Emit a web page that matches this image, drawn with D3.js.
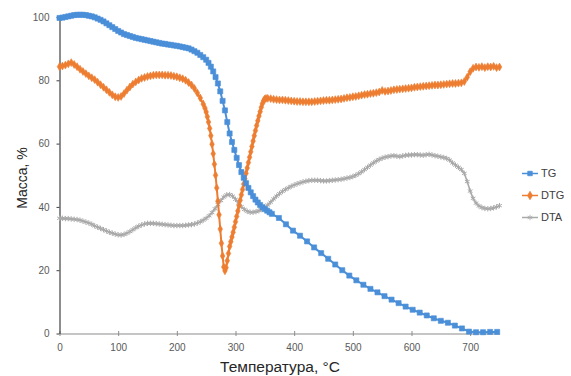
<!DOCTYPE html>
<html>
<head>
<meta charset="utf-8">
<script src="https://cdn.jsdelivr.net/npm/d3@7"></script>
<style>
  body { margin: 0; background: #fff; }
  text { font-family: "Liberation Sans", Arial, sans-serif; }
</style>
</head>
<body>
<div id="div1"></div>
<script>

// temperature (°C) / value pairs
var tgData = [[0,99.7],[5,99.8],[10,100.0],[15,100.2],[20,100.4],[25,100.6],[30,100.7],[35,100.7],[40,100.7],[45,100.6],
  [50,100.4],[55,100.2],[60,99.9],[65,99.5],[70,99.1],[75,98.6],[80,98.0],[85,97.4],[90,96.8],[95,96.2],
  [100,95.6],[105,95.1],[110,94.6],[115,94.3],[120,94.0],[125,93.7],[130,93.4],[135,93.2],[140,93.0],[145,92.8],
  [150,92.6],[155,92.4],[160,92.2],[165,92.0],[170,91.8],[175,91.6],[180,91.5],[185,91.3],[190,91.2],[195,91.0],
  [200,90.9],[205,90.7],[210,90.5],[215,90.3],[220,90.1],[225,89.7],[230,89.2],[235,88.7],[240,88.0],[245,87.3],
  [250,86.5],[254,85.5],[258,84.3],[262,82.8],[266,81.0],[270,79.0],[274,76.5],[278,73.5],[282,70.5],[286,66.8],
  [290,63.2],[294,60.5],[298,58.0],[302,55.5],[306,53.2],[310,51.0],[314,49.2],[318,47.5],[322,46.0],[326,44.6],
  [330,43.4],[334,42.3],[338,41.4],[342,40.6],[346,39.9],[350,39.3],[354,38.8],[358,38.3],[362,37.8],
  [374,36.5],[386,34.5],[398,32.5],[410,30.9],[422,29.1],[434,27.2],[446,25.4],[458,23.6],[470,21.8],[482,20.0],
  [494,18.3],[506,16.8],[518,15.4],[530,14.1],[542,13.0],[554,11.8],[566,10.7],[578,9.6],[590,8.5],[602,7.5],
  [614,6.6],[626,5.7],[638,4.8],[650,4.0],[662,3.4],[674,2.5],[686,1.6],[698,0.6],[710,0.4],[722,0.4],[734,0.5],[746,0.5]];

var dtgData = [[0,84.3],[5,84.5],[10,84.8],[15,85.2],[20,85.6],[25,85.0],[30,84.3],[35,83.5],[40,82.8],[45,82.1],
  [50,81.4],[55,80.8],[60,80.2],[65,79.4],[70,78.6],[75,77.8],[80,77.0],[85,76.2],[90,75.4],[95,74.8],
  [100,74.6],[105,74.9],[110,75.8],[115,76.9],[120,77.9],[125,78.8],[130,79.5],[135,80.1],[140,80.6],[145,80.9],
  [150,81.2],[155,81.4],[160,81.6],[165,81.7],[170,81.7],[175,81.7],[180,81.6],[185,81.6],[190,81.5],[195,81.3],
  [200,81.1],[205,80.8],[210,80.5],[215,80.0],[220,79.3],[225,78.5],[230,77.4],[235,76.0],[240,74.4],[245,72.5],
  [248,71.2],[250,70.0],[252,68.5],[254,66.8],[256,64.8],[258,62.5],[260,59.8],[262,56.8],[264,53.5],[266,50.0],
  [268,46.0],[270,41.8],[272,37.5],[274,33.0],[276,28.5],[278,24.5],[280,21.0],[282,19.8],[284,20.8],[286,23.0],
  [288,25.3],[290,27.5],[292,29.0],[294,30.5],[296,32.0],[298,33.6],[300,35.3],[302,37.0],[304,38.7],[306,40.4],
  [308,42.1],[310,43.8],[312,45.5],[314,47.2],[316,48.9],[318,50.6],[320,52.3],[322,54.0],[324,55.7],[326,57.4],
  [328,59.1],[330,60.8],[332,62.5],[334,64.1],[336,65.7],[338,67.2],[340,68.7],[342,70.1],[344,71.5],[346,72.7],
  [348,73.6],[350,74.1],[352,74.3],[355,74.3],[360,74.2],[365,74.0],[370,73.9],[375,73.8],[380,73.8],[385,73.7],
  [390,73.6],[395,73.5],[400,73.4],[405,73.3],[410,73.3],[415,73.2],[420,73.2],[425,73.2],[430,73.2],[435,73.3],
  [440,73.4],[445,73.5],[450,73.6],[455,73.7],[460,73.7],[465,73.8],[470,73.9],[475,74.0],[480,74.1],[485,74.3],
  [490,74.5],[495,74.6],[500,74.8],[505,74.9],[510,75.1],[515,75.3],[520,75.5],[525,75.6],[530,75.8],[535,75.9],
  [540,76.1],[545,76.3],[550,76.8],[555,76.5],[560,76.6],[565,76.8],[570,77.0],[575,77.1],[580,77.2],[585,77.3],
  [590,77.4],[595,77.5],[600,77.6],[605,77.8],[610,77.9],[615,78.0],[620,78.1],[625,78.2],[630,78.3],[635,78.4],
  [640,78.5],[645,78.5],[650,78.6],[655,78.7],[660,78.8],[665,78.9],[670,79.0],[675,79.0],[680,79.1],[685,79.2],
  [690,79.6],[695,81.0],[700,82.7],[705,83.8],[710,84.2],[715,84.1],[720,84.3],[725,84.0],[730,84.3],[735,84.2],
  [740,84.4],[745,84.0],[750,84.2]];

var dtaData = [[0,36.4],[5,36.4],[10,36.3],[15,36.3],[20,36.2],[25,36.1],[30,36.0],[35,35.8],[40,35.5],[45,35.2],
  [50,34.9],[55,34.5],[60,34.0],[65,33.6],[70,33.2],[75,32.8],[80,32.4],[85,32.0],[90,31.7],[95,31.4],
  [100,31.2],[105,31.1],[110,31.3],[115,31.7],[120,32.2],[125,32.8],[130,33.4],[135,33.9],[140,34.3],[145,34.6],
  [150,34.8],[155,34.8],[160,34.8],[165,34.7],[170,34.6],[175,34.5],[180,34.4],[185,34.3],[190,34.2],[195,34.1],
  [200,34.1],[205,34.1],[210,34.1],[215,34.2],[220,34.3],[225,34.4],[230,34.6],[235,34.9],[240,35.3],[245,35.8],
  [250,36.4],[255,37.2],[260,38.2],[265,39.4],[270,40.7],[275,42.0],[280,43.1],[285,43.8],[290,43.9],[295,43.4],
  [300,42.4],[305,41.2],[310,40.1],[315,39.2],[320,38.6],[325,38.3],[330,38.3],[335,38.5],[340,38.8],[345,39.2],
  [350,39.8],[355,40.6],[360,41.5],[365,42.5],[370,43.4],[375,44.2],[380,44.9],[385,45.5],[390,46.0],[395,46.5],
  [400,46.9],[405,47.3],[410,47.6],[415,47.9],[420,48.1],[425,48.3],[430,48.4],[435,48.4],[440,48.4],[445,48.3],
  [450,48.2],[455,48.2],[460,48.3],[465,48.4],[470,48.5],[475,48.6],[480,48.7],[485,48.9],[490,49.1],[495,49.3],
  [500,49.6],[505,50.0],[510,50.5],[515,51.1],[520,51.8],[525,52.5],[530,53.2],[535,53.9],[540,54.5],[545,55.0],
  [550,55.4],[555,55.7],[560,55.9],[565,56.1],[570,56.2],[575,56.0],[580,55.9],[585,56.1],[590,56.3],[595,56.4],
  [600,56.4],[605,56.5],[610,56.5],[615,56.4],[620,56.3],[625,56.5],[630,56.6],[635,56.4],[640,56.2],[645,56.0],
  [650,55.8],[655,55.6],[660,55.3],[665,54.8],[670,53.9],[675,53.2],[680,52.5],[685,51.8],[690,50.6],[695,48.0],
  [700,45.0],[705,42.7],[710,41.2],[715,40.3],[720,39.8],[725,39.5],[730,39.4],[735,39.5],[740,39.7],[745,40.0],
  [750,40.4]];

var xTicks = [0, 100, 200, 300, 400, 500, 600, 700];
var yTicks = [0, 20, 40, 60, 80, 100];
var seriesNames = ['TG', 'DTG', 'DTA'];

var width = 571, height = 376;

var x = d3.scaleLinear().domain([0, 750]).range([59.5, 499.5]);
var y = d3.scaleLinear().domain([0, 100]).range([333.5, 17]);

var svg = d3.select('#div1').append('svg')
    .attr('width', width)
    .attr('height', height);

// axes
var xAxis = svg.append('g')
    .attr('transform', 'translate(0,' + y(0) + ')')
    .call(d3.axisBottom(x).tickValues(xTicks).tickSize(0).tickPadding(10));
xAxis.select('.domain').attr('stroke', '#8c8c8c').attr('stroke-width', 1.2);
xAxis.selectAll('.tick line').remove();
xAxis.selectAll('.tick').append('line')
    .attr('y1', -2.5).attr('y2', 2.5)
    .attr('stroke', '#8c8c8c');
xAxis.selectAll('text').attr('fill', '#595959').style('font-size', '10px');

var yAxis = svg.append('g')
    .attr('transform', 'translate(' + x(0) + ',0)')
    .call(d3.axisLeft(y).tickValues(yTicks).tickSize(3).tickSizeOuter(0).tickPadding(7));
yAxis.select('.domain').attr('stroke', '#404040').attr('stroke-width', 1.2);
yAxis.selectAll('.tick line').attr('stroke', '#404040');
yAxis.selectAll('text').attr('fill', '#595959').style('font-size', '10px');

var colors = { TG: '#4a8fd8', DTG: '#ed7d31', DTA: '#a9a9a9' };

var line = d3.line()
    .x(function(d) { return x(d[0]); })
    .y(function(d) { return y(d[1]); });

function drawSeries(data, name) {
  var g = svg.append('g');
  g.append('path')
      .datum(data)
      .attr('fill', 'none')
      .attr('stroke', colors[name])
      .attr('stroke-width', name === 'DTA' ? 1.6 : 2)
      .attr('d', line);
  var sym = name === 'TG' ? d3.symbolSquare : (name === 'DTG' ? d3.symbolDiamond : d3.symbolAsterisk);
  var size = name === 'TG' ? 26 : (name === 'DTG' ? 18 : 20);
  g.selectAll('path.mk')
      .data(data)
    .enter().append('path')
      .attr('class', 'mk')
      .attr('d', d3.symbol().type(sym).size(size))
      .attr('transform', function(d) { return 'translate(' + x(d[0]) + ',' + y(d[1]) + ')'; })
      .attr('fill', colors[name])
      .attr('stroke', colors[name])
      .attr('stroke-width', name === 'DTA' ? 1 : 0.6);
}

drawSeries(dtaData, 'DTA');
drawSeries(dtgData, 'DTG');
drawSeries(tgData, 'TG');

// legend
var legend = svg.selectAll('.legend')
    .data(seriesNames)
  .enter().append('g')
    .attr('class', 'legend')
    .attr('transform', function(d, i) { return 'translate(522,' + (173.5 + i * 22) + ')'; });

legend.append('line')
    .attr('x1', 0).attr('x2', 16)
    .attr('stroke', function(d) { return colors[d]; })
    .attr('stroke-width', 1.5);

legend.append('path')
    .attr('transform', 'translate(8,0)')
    .attr('d', function(d) {
      var t = d === 'TG' ? d3.symbolSquare : (d === 'DTG' ? d3.symbolDiamond : d3.symbolAsterisk);
      return d3.symbol().type(t).size(20)();
    })
    .attr('fill', function(d) { return colors[d]; })
    .attr('stroke', function(d) { return colors[d]; })
    .attr('stroke-width', 0.8);

legend.append('text')
    .attr('x', 19)
    .attr('dy', '0.35em')
    .attr('fill', '#404040')
    .style('font-size', '11px')
    .text(function(d) { return d; });

// axis titles
svg.append('text')
    .attr('text-anchor', 'middle')
    .attr('transform', 'translate(27,178)rotate(-90)')
    .attr('fill', '#262626')
    .style('font-size', '14px')
    .text('Масса, %');

svg.append('text')
    .attr('text-anchor', 'middle')
    .attr('x', 280)
    .attr('y', 372)
    .attr('fill', '#262626')
    .style('font-size', '15.5px')
    .text('Температура, °C');

</script>
</body>
</html>
